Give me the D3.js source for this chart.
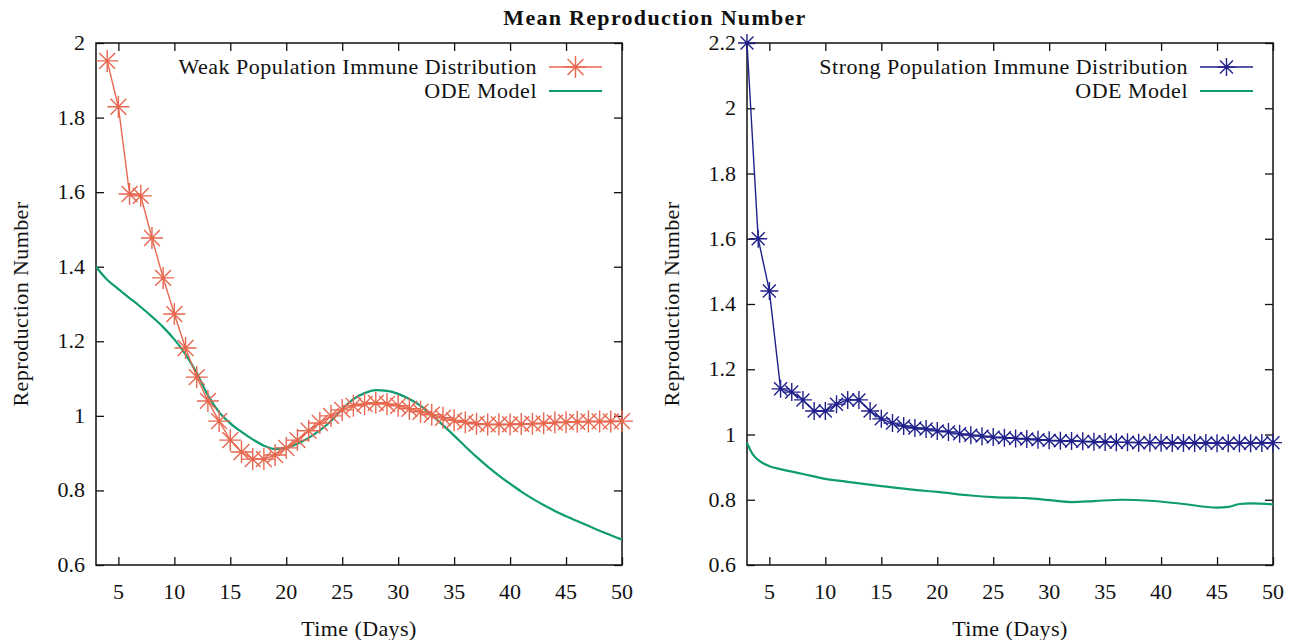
<!DOCTYPE html>
<html>
<head>
<meta charset="utf-8">
<script src="https://cdn.jsdelivr.net/npm/d3@7"></script>
<style>
  body { margin: 0; background: #fff; }
  svg text { font-family: "Liberation Serif", "Times New Roman", serif; fill: #111; }
</style>
</head>
<body>
<svg id="chart" width="1303" height="640"></svg>
<script>
// ---- data ----
const weakDays = [4,5,6,7,8,9,10,11,12,13,14,15,16,17,18,19,20,21,22,23,24,25,26,27,
  28,29,30,31,32,33,34,35,36,37,38,39,40,41,42,43,44,45,46,47,48,49,50];
const weakValues = [1.952,1.829,1.595,1.590,1.477,1.370,1.273,1.182,1.104,1.040,0.986,
  0.935,0.903,0.884,0.884,0.895,0.914,0.935,0.960,0.981,1.000,1.016,1.027,1.032,1.035,
  1.032,1.027,1.019,1.011,1.003,0.995,0.988,0.983,0.979,0.977,0.977,0.977,0.978,0.979,
  0.980,0.982,0.983,0.984,0.985,0.985,0.985,0.986];

const weakOdeDays = [3,4,5,6,7,8,9,10,11,12,13,14,15,16,17,18,19,20,21,22,23,24,25,26,
  27,28,29,30,31,32,33,34,35,36,37,38,39,40,41,42,43,44,45,46,47,48,49,50];
const weakOdeValues = [1.400,1.365,1.340,1.316,1.292,1.266,1.238,1.205,1.165,1.115,1.055,
  1.010,0.980,0.957,0.937,0.920,0.911,0.914,0.925,0.941,0.961,0.986,1.018,1.045,1.061,
  1.069,1.067,1.059,1.045,1.027,1.002,0.975,0.947,0.918,0.890,0.864,0.840,0.818,0.797,
  0.778,0.761,0.745,0.731,0.718,0.705,0.692,0.680,0.668];

const strongDays = [3,4,5,6,7,8,9,10,11,12,13,14,15,16,17,18,19,20,21,22,23,24,25,26,
  27,28,29,30,31,32,33,34,35,36,37,38,39,40,41,42,43,44,45,46,47,48,49,50];
const strongValues = [2.200,1.600,1.440,1.140,1.130,1.106,1.072,1.072,1.093,1.106,1.106,
  1.072,1.048,1.035,1.026,1.020,1.017,1.011,1.008,1.002,0.998,0.995,0.992,0.990,0.988,
  0.986,0.984,0.982,0.981,0.980,0.979,0.978,0.977,0.976,0.976,0.975,0.975,0.975,0.974,
  0.974,0.974,0.974,0.973,0.973,0.973,0.973,0.974,0.975];

const strongOdeDays = [3,3.5,4,5,6,8,10,12,15,18,20,23,25,28,30,32,34,36.5,39,42,45,46,47,48,50];
const strongOdeValues = [0.974,0.940,0.922,0.903,0.894,0.879,0.864,0.855,0.842,0.830,0.824,
  0.813,0.808,0.805,0.799,0.793,0.796,0.800,0.797,0.787,0.776,0.778,0.787,0.789,0.786];

const xTicks = [5,10,15,20,25,30,35,40,45,50];
const weakYTicks = [0.6,0.8,1,1.2,1.4,1.6,1.8,2];
const strongYTicks = [0.6,0.8,1,1.2,1.4,1.6,1.8,2,2.2];

const chartTitle = "Mean Reproduction Number";
const xLabel = "Time (Days)";
const yLabel = "Reproduction Number";
const odeLabel = "ODE Model";

const green = "#0f9c72";
const fontSize = 22;

const svg = d3.select("#chart");

svg.append("text")
  .attr("x", 655).attr("y", 25)
  .attr("text-anchor", "middle")
  .attr("font-weight", "bold")
  .attr("font-size", fontSize)
  .attr("letter-spacing", 1.3)
  .text(chartTitle);

// asterisk marker (gnuplot point type 3: plus + cross)
function star(g, x, y, r, color) {
  let d = r * 0.72;
  g.append("path")
    .attr("d", `M${x - r},${y}H${x + r}M${x},${y - r}V${y + r}` +
      `M${x - d},${y - d}L${x + d},${y + d}M${x - d},${y + d}L${x + d},${y - d}`)
    .attr("stroke", color)
    .attr("stroke-width", 1.4)
    .attr("fill", "none");
}

function drawPanel(p) {
  let left = p.left, right = p.right, top = 43, bottom = 565;

  let x = d3.scaleLinear().domain([3, 50]).range([left, right]);
  let y = d3.scaleLinear().domain(p.yDomain).range([bottom, top]);

  let g = svg.append("g");

  // ticks on all four sides, pointing inward
  let tickLen = 8;
  let fmt = d3.format("");
  g.append("g").attr("transform", `translate(0,${bottom})`)
    .call(d3.axisBottom(x).tickValues(xTicks).tickSize(-tickLen).tickFormat(""));
  g.append("g").attr("transform", `translate(0,${top})`)
    .call(d3.axisTop(x).tickValues(xTicks).tickSize(-tickLen).tickFormat(""));
  g.append("g").attr("transform", `translate(${left},0)`)
    .call(d3.axisLeft(y).tickValues(p.yTicks).tickSize(-tickLen).tickFormat(""));
  g.append("g").attr("transform", `translate(${right},0)`)
    .call(d3.axisRight(y).tickValues(p.yTicks).tickSize(-tickLen).tickFormat(""));
  g.selectAll(".domain").remove();
  g.selectAll(".tick line").attr("stroke", "#111").attr("stroke-width", 1.3);

  g.append("rect")
    .attr("x", left).attr("y", top)
    .attr("width", right - left).attr("height", bottom - top)
    .attr("fill", "none").attr("stroke", "#111").attr("stroke-width", 1.5);

  // tick labels
  g.selectAll(".xl").data(xTicks).enter().append("text")
    .attr("x", d => x(d)).attr("y", 599)
    .attr("text-anchor", "middle").attr("font-size", fontSize)
    .text(d => fmt(d));
  g.selectAll(".yl").data(p.yTicks).enter().append("text")
    .attr("x", left - 11).attr("y", d => y(d) + 7)
    .attr("text-anchor", "end").attr("font-size", fontSize)
    .text(d => fmt(d));

  // axis titles
  g.append("text")
    .attr("x", (left + right) / 2).attr("y", 636)
    .attr("text-anchor", "middle").attr("font-size", fontSize)
    .attr("letter-spacing", 0.4)
    .text(xLabel);
  g.append("text")
    .attr("transform", `translate(${p.yLabelX},304) rotate(-90)`)
    .attr("text-anchor", "middle").attr("font-size", fontSize)
    .attr("letter-spacing", 0.4)
    .text(yLabel);

  // ODE curve
  let ode = p.odeDays.map((d, i) => [d, p.odeValues[i]]);
  g.append("path")
    .datum(ode)
    .attr("d", d3.line().x(d => x(d[0])).y(d => y(d[1])).curve(d3.curveMonotoneX))
    .attr("fill", "none").attr("stroke", green).attr("stroke-width", 2.2);

  // simulation series
  let pts = p.days.map((d, i) => [d, p.values[i]]);
  g.append("path")
    .datum(pts)
    .attr("d", d3.line().x(d => x(d[0])).y(d => y(d[1])))
    .attr("fill", "none").attr("stroke", p.color).attr("stroke-width", 1.4);
  pts.forEach(d => star(g, x(d[0]), y(d[1]), p.markerR, p.color));

  // legend
  let lx1 = right - 73, lx2 = right - 20;
  g.append("text")
    .attr("x", lx1 - 12).attr("y", 74)
    .attr("text-anchor", "end").attr("font-size", fontSize)
    .attr("letter-spacing", 0.5)
    .text(p.label);
  g.append("line")
    .attr("x1", lx1).attr("x2", lx2).attr("y1", 67).attr("y2", 67)
    .attr("stroke", p.color).attr("stroke-width", 1.4);
  star(g, (lx1 + lx2) / 2, 67, p.markerR, p.color);
  g.append("text")
    .attr("x", lx1 - 12).attr("y", 98)
    .attr("text-anchor", "end").attr("font-size", fontSize)
    .attr("letter-spacing", 0.5)
    .text(odeLabel);
  g.append("line")
    .attr("x1", lx1).attr("x2", lx2).attr("y1", 91).attr("y2", 91)
    .attr("stroke", green).attr("stroke-width", 2.2);
}

drawPanel({
  left: 96, right: 622, yDomain: [0.6, 2], yTicks: weakYTicks, yLabelX: 28,
  days: weakDays, values: weakValues, odeDays: weakOdeDays, odeValues: weakOdeValues,
  color: "#e8674f", markerR: 11, label: "Weak Population Immune Distribution"
});

drawPanel({
  left: 747, right: 1273, yDomain: [0.6, 2.2], yTicks: strongYTicks, yLabelX: 679,
  days: strongDays, values: strongValues, odeDays: strongOdeDays, odeValues: strongOdeValues,
  color: "#20208c", markerR: 9, label: "Strong Population Immune Distribution"
});
</script>
</body>
</html>
